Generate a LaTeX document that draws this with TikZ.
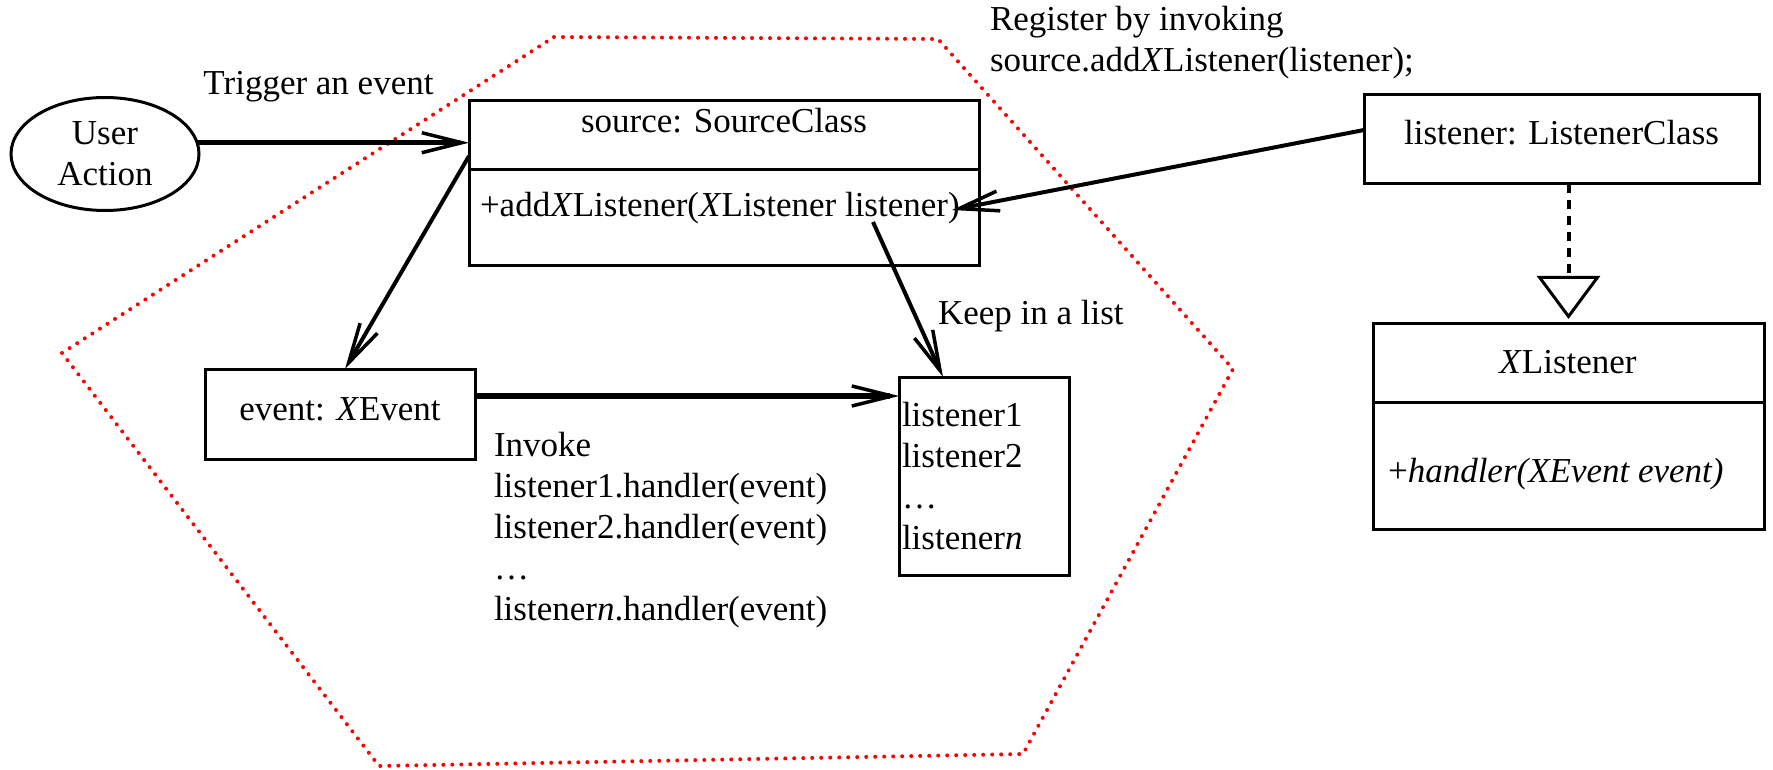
\documentclass[tikz,border=0pt]{standalone}
\usepackage{fontspec}
\setmainfont{Liberation Serif}
\usetikzlibrary{arrows.meta,shapes.geometric}
\tikzset{
  umlhead/.tip={Straight Barb[length=40pt,width=20pt,line width=3.5pt]},
  umltri/.tip={Triangle[open,length=43pt,width=63pt,line width=3pt]}
}
\begin{document}
\begin{tikzpicture}[x=1pt,y=-1pt,
  every node/.style={font=\fontsize{35}{41}\selectfont, inner sep=0pt, outer sep=0pt},
  umlbox/.style={draw, rectangle, line width=3pt, inner sep=0pt},
  divider/.style={line width=3pt},
  arr/.style={line width=4pt, arrows={-umlhead}},
  thickarr/.style={arr, line width=5.5pt},
  hexline/.style={draw=red, line width=4pt, line cap=round, dash pattern=on 0pt off 9pt},
  realize/.style={line width=4pt, dash pattern=on 9pt off 7pt, arrows={-umltri}, shorten >=4pt}
]
\useasboundingbox (0,0) rectangle (1773,770);

% boundary of the event source
\draw[hexline] (554,37) -- (938,39) -- (1233,369) -- (1023,754) -- (379,766) -- (62,353) -- cycle;

% user action
\node[draw, ellipse, line width=3pt, minimum width=188pt, minimum height=113pt, align=center] (ua) at (105,154) {User\\Action};
\node[anchor=base] (trig) at (318.5,95) {Trigger an event};

% source
\node[umlbox, minimum width=510pt, minimum height=165pt, anchor=north west] (src) at (469,101) {};
\draw[divider] (469,170) -- (979,170);
\node[anchor=base] (srctitle) at (724,133) {source: SourceClass};
\node[anchor=base west] (srcop) at (480,217) {+add\textit{X}Listener(\textit{X}Listener listener)};

% event
\node[umlbox, minimum width=270pt, minimum height=90pt, anchor=north west, text height=23pt, text depth=11pt] (ev) at (205,369) {event: \textit{X}Event};

% listener list
\node[umlbox, anchor=north west, text width=164pt, inner xsep=3pt, align=left, minimum height=198pt] (lst) at (899,377)
  {listener1\\listener2\\\ldots\\listener\textit{n}};

\node[anchor=north west, align=left] (invoke) at (494,432)
  {Invoke\\listener1.handler(event)\\listener2.handler(event)\\\ldots\\listener\textit{n}.handler(event)};
\node[anchor=base west] (keep) at (938,324) {Keep in a list};

% listener object
\node[umlbox, minimum width=395pt, minimum height=89pt, anchor=north west, text height=23pt, text depth=12pt] (lc) at (1364,95) {listener: ListenerClass};
\node[anchor=north west, align=left] (reg) at (990,6)
  {Register by invoking\\source.add\textit{X}Listener(listener);};

% XListener interface
\node[umlbox, minimum width=391pt, minimum height=206pt, anchor=north west] (xl) at (1373,323) {};
\draw[divider] (1373,402) -- (1764,402);
\node[anchor=base] (xltitle) at (1568,373) {\textit{X}Listener};
\node[anchor=base west] (xlop) at (1388,482) {+\textit{handler(XEvent event)}};

% connectors
\draw[thickarr] (ua.7) -- (ua.7 -| src.west);
\draw[arr] ([yshift=27.5pt]src.west) -- ([xshift=5pt]ev.north);
\draw[thickarr] ([yshift=18pt]ev.east) -- ([yshift=18pt]ev.east -| lst.west);
\draw[arr] ([xshift=149pt,yshift=-38.5pt]src.center) -- ([xshift=-41pt]lst.north);
\draw[arr] ([yshift=9.5pt]lc.west) -- ([xshift=-27pt,yshift=-26.5pt]src.east);
\draw[realize] (lc.south -| xl.north) -- (xl.north);
\end{tikzpicture}
\end{document}
